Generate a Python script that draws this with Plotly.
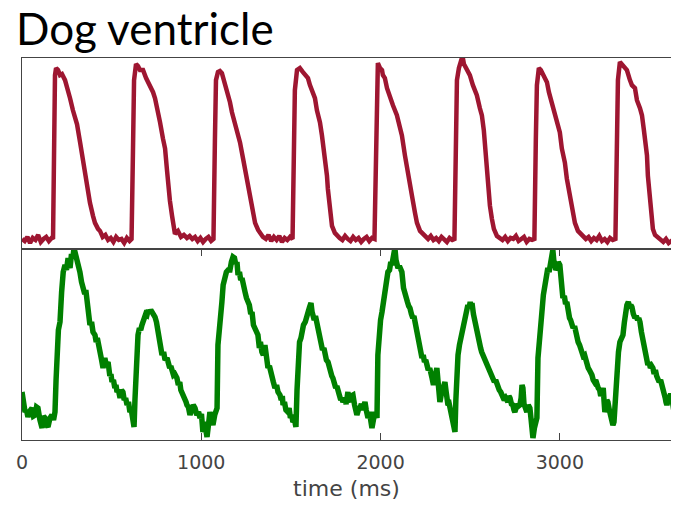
import plotly.graph_objects as go

# ---- data ----
red_time = [
    0, 15, 30, 45, 60, 75, 90, 105, 120, 135, 150, 165,
    173, 178, 184, 190, 201, 212, 223, 240, 257, 268, 284, 296, 307, 324, 340, 351, 368, 379, 396, 407, 424, 435,
    450, 465, 480, 495, 510, 525, 540, 555, 570, 585, 600,
    611, 619, 625, 636, 647, 658, 675, 692, 714, 731, 742, 759, 770, 786, 798, 809, 814, 825, 837, 848, 853, 870, 887, 903, 920,
    935, 950, 965, 980, 995, 1010, 1025, 1040, 1055,
    1068, 1076, 1082, 1093, 1104, 1115, 1127, 1138, 1149, 1160, 1171, 1188, 1205, 1216, 1233, 1244, 1261, 1272, 1289, 1300, 1317, 1328, 1344,
    1360, 1375, 1390, 1405, 1420, 1435, 1450, 1465, 1480, 1495,
    1509, 1517, 1522, 1534, 1550, 1567, 1584, 1595, 1606, 1617, 1634, 1645, 1662, 1673, 1690, 1701, 1706, 1718, 1729, 1745, 1757,
    1772, 1787, 1802, 1817, 1832, 1847, 1862, 1877, 1892, 1907, 1922, 1937, 1952,
    1966, 1974, 1980, 1985, 1997, 2008, 2013, 2024, 2036, 2052, 2069, 2091, 2108, 2119, 2136, 2147, 2164, 2175, 2192, 2203, 2220, 2231, 2248,
    2265, 2280, 2295, 2310, 2325, 2340, 2355, 2370, 2385, 2400,
    2412, 2420, 2426, 2437, 2448, 2457, 2465, 2476, 2487, 2498, 2515, 2526, 2537, 2554, 2565, 2576, 2582, 2593, 2598, 2610, 2621, 2632, 2649,
    2665, 2680, 2695, 2710, 2725, 2740, 2755, 2770, 2785, 2800, 2815, 2830, 2845,
    2858, 2866, 2872, 2883, 2894, 2905, 2916, 2928, 2939, 2950, 2961, 2978, 2989, 3000, 3011, 3028, 3039, 3056, 3067, 3084, 3101, 3112, 3129,
    3145, 3160, 3175, 3190, 3205, 3220, 3235, 3250, 3265, 3280, 3295,
    3310, 3319, 3324, 3335, 3346, 3357, 3374, 3391, 3402, 3419, 3430, 3447, 3458, 3469, 3480, 3486, 3491, 3503, 3514, 3519, 3531, 3547,
    3562, 3577, 3592, 3607, 3622, 3637, 3652, 3664,
]
red_value = [
    10, 8, 12, 6, 11, 9, 14, 7, 10, 12, 8, 11,
    10, 98, 173, 180, 178, 173, 174, 168, 158, 150, 138, 130, 124, 106, 88, 76, 58, 46, 33, 26, 20, 18,
    12, 14, 9, 11, 7, 12, 9, 10, 6, 11, 8,
    10, 98, 168, 184, 182, 178, 178, 170, 163, 156, 150, 138, 126, 110, 100, 78, 66, 48, 33, 20, 15, 18, 12, 14, 11,
    13, 10, 12, 8, 11, 7, 10, 12, 8,
    10, 108, 168, 176, 177, 175, 168, 160, 156, 146, 136, 126, 113, 106, 90, 80, 66, 53, 36, 26, 19, 16, 12,
    10, 14, 8, 12, 9, 13, 7, 11, 9, 12,
    10, 98, 158, 178, 180, 176, 172, 170, 163, 158, 150, 138, 126, 113, 93, 73, 60, 38, 23, 16, 13,
    11, 9, 13, 10, 8, 12, 9, 11, 7, 10, 12, 8, 11,
    10, 98, 168, 185, 180, 178, 173, 170, 160, 153, 143, 133, 120, 113, 93, 80, 66, 53, 36, 26, 18, 16, 12,
    10, 13, 9, 11, 8, 12, 10, 7, 11, 9,
    10, 98, 168, 180, 186, 192, 184, 180, 176, 173, 163, 158, 153, 140, 133, 118, 103, 78, 66, 43, 30, 20, 13,
    11, 9, 12, 8, 11, 10, 13, 8, 10, 12, 7, 10, 9,
    10, 108, 163, 180, 178, 174, 170, 166, 156, 148, 140, 130, 123, 116, 100, 86, 70, 53, 38, 26, 18, 16, 12,
    10, 12, 8, 11, 9, 13, 8, 10, 7, 11, 9,
    10, 108, 168, 186, 184, 182, 178, 168, 163, 160, 148, 140, 133, 118, 100, 93, 73, 53, 33, 20, 14, 11,
    9, 7, 10, 6, 8, 5, 7, 6,
]

green_time = [
    0, 8, 17, 25, 33, 44, 56, 64, 73, 81, 89, 100, 112, 120, 128, 137, 145, 156, 167, 176, 184,
    190, 194, 203, 212, 216, 221, 230, 240, 248, 257, 262, 268, 276, 284, 290, 296, 304, 312, 318, 323,
    332, 340, 350, 356, 362, 370, 379, 388, 396, 407, 414, 420, 428, 435, 444, 452, 462, 470, 480, 490,
    496, 502, 510, 518, 524, 530, 538, 547, 555, 563, 570, 578, 586, 594, 602, 610, 618, 625,
    630, 636, 641, 647, 655, 662, 669, 676, 683, 690, 697, 704, 711, 718, 725, 733, 742, 750, 759, 767,
    772, 781, 790, 798, 809, 816, 824, 830, 837, 845, 852, 864, 872, 880, 886, 892, 900, 909, 915, 920, 928, 937,
    945, 955, 965, 975, 985, 993, 1001, 1009, 1018, 1025, 1032, 1040, 1048, 1056, 1065, 1075, 1082, 1088,
    1093, 1100, 1108, 1115, 1122, 1132, 1140, 1150, 1160, 1168, 1177, 1185, 1192, 1199, 1205, 1213, 1220, 1227, 1235, 1244,
    1252, 1260, 1268, 1276, 1283, 1291, 1299, 1306, 1316, 1324, 1330, 1338, 1346, 1355, 1362, 1372, 1380, 1388, 1394, 1402,
    1411, 1420, 1428, 1439, 1446, 1452, 1456, 1464, 1472, 1483, 1490, 1497, 1505, 1511, 1520, 1528,
    1534, 1539, 1548, 1556, 1562, 1570, 1580, 1589, 1596, 1604, 1612, 1618, 1623, 1630, 1637, 1645, 1652, 1662, 1670, 1676,
    1684, 1690, 1698, 1707, 1714, 1722, 1728, 1734, 1742, 1750, 1756, 1762, 1770, 1778, 1784, 1790, 1800, 1808, 1818, 1824,
    1829, 1836, 1846, 1855, 1862, 1868, 1876, 1885, 1893, 1900, 1906, 1913, 1920, 1925, 1930, 1938, 1945, 1952, 1960, 1969,
    1975, 1980,
    1985, 1992, 2000, 2008, 2016, 2024, 2032, 2041, 2050, 2057, 2063, 2070, 2076, 2080, 2086, 2092, 2097, 2105, 2112, 2119,
    2128, 2136, 2144, 2150, 2157, 2164, 2172, 2180, 2186, 2192, 2200, 2208, 2215, 2222, 2231, 2238, 2245, 2252, 2259, 2266,
    2274, 2280, 2287, 2295, 2302, 2308, 2314, 2320, 2325, 2331, 2338, 2346, 2352, 2359, 2366, 2370, 2376, 2383, 2390, 2398,
    2405, 2410, 2415,
    2420, 2426, 2432, 2440, 2448, 2454, 2462, 2470, 2476, 2482, 2487, 2494, 2500, 2505, 2510, 2518, 2526, 2534, 2543, 2550,
    2558, 2564, 2571, 2580, 2588, 2594, 2599, 2606, 2614, 2620, 2627, 2635, 2642, 2648, 2655, 2662, 2670, 2676, 2683, 2690,
    2698, 2704, 2710, 2716, 2722, 2730, 2738, 2744, 2749, 2756, 2763, 2770, 2777, 2784, 2789, 2794, 2800, 2808, 2816, 2824,
    2833, 2840, 2845, 2850, 2858, 2866, 2872,
    2878, 2886, 2893, 2900, 2908, 2917, 2925, 2933, 2940, 2948, 2956, 2961, 2966, 2972, 2978, 2984, 2991, 3000, 3008, 3017,
    3025, 3032, 3039, 3046, 3054, 3060, 3067, 3074, 3082, 3088, 3095, 3102, 3110, 3116, 3123, 3130, 3138, 3144, 3151, 3158,
    3165, 3172, 3179, 3186, 3193, 3200, 3207, 3214, 3222, 3228, 3235, 3242, 3247, 3251, 3258, 3262, 3268, 3276, 3282, 3290,
    3296, 3302,
    3308, 3313, 3319, 3327, 3335, 3342, 3352, 3360, 3366, 3374, 3382, 3390, 3396, 3402, 3410, 3419, 3426, 3434, 3440, 3447,
    3455, 3462, 3468, 3474, 3480, 3486, 3491, 3498, 3505, 3512, 3519, 3526, 3533, 3540, 3547, 3554, 3562, 3568, 3575, 3582,
    3588, 3592, 3597, 3604, 3610, 3618, 3625, 3632, 3638, 3642, 3650, 3658, 3664,
]
green_value = [
    48, 36, 28, 30, 23, 29, 32, 24, 25, 33, 32, 20, 12, 24, 22, 15, 13, 22, 25, 20, 28,
    60, 88, 110, 118, 140, 148, 168, 175, 170, 182, 176, 172, 186, 182, 192, 188, 182, 178, 170, 168,
    158, 152, 146, 150, 142, 125, 115, 118, 108, 105, 98, 102, 92, 88, 80, 72, 82, 75, 78, 64,
    66, 58, 60, 52, 55, 48, 50, 42, 50, 48, 40, 42, 35, 38, 28, 30, 20, 13,
    40, 68, 90, 105, 112, 110, 115, 118, 122, 126, 125, 130, 127, 130, 128, 126, 123, 118, 108, 100,
    92, 85, 88, 80, 82, 76, 72, 74, 68, 65, 66, 62, 55, 58, 50, 48, 45, 42, 38, 35, 33, 25,
    30, 35, 32, 25, 28, 22, 26, 8, 18, 12, 3, 15, 28, 20, 15, 25, 30, 32,
    95, 115, 128, 138, 155, 165, 168, 170, 170, 178, 183, 182, 176, 178, 165, 168, 160, 162, 152, 148,
    142, 138, 135, 126, 128, 115, 112, 108, 105, 92, 98, 88, 85, 95, 80, 72, 74, 66, 65, 58,
    52, 55, 48, 45, 40, 44, 35, 38, 30, 28, 32, 22, 25, 18, 20, 13,
    50, 82, 98, 102, 108, 115, 118, 122, 128, 133, 137, 128, 122, 120, 124, 117, 108, 102, 96, 90,
    92, 85, 80, 78, 72, 68, 64, 62, 58, 52, 54, 48, 45, 40, 42, 38, 42, 36, 48, 40,
    38, 44, 45, 35, 30, 25, 30, 32, 36, 30, 34, 38, 30, 26, 22, 28, 18, 12, 20, 28,
    25, 22,
    85, 105, 120, 128, 140, 152, 160, 168, 170, 178, 175, 182, 186, 192, 180, 176, 172, 174, 170, 168,
    152, 145, 142, 138, 134, 132, 126, 122, 124, 118, 110, 105, 95, 88, 82, 85, 78, 80, 75, 70,
    72, 64, 62, 55, 62, 70, 72, 60, 48, 38, 45, 52, 55, 58, 48, 40, 35, 36, 30, 28,
    18, 12, 8,
    40, 70, 85, 95, 102, 105, 115, 118, 122, 130, 135, 132, 138, 134, 137, 126, 118, 110, 102, 96,
    92, 88, 85, 82, 78, 76, 75, 70, 66, 64, 62, 58, 60, 56, 55, 50, 48, 46, 45, 40,
    42, 38, 38, 44, 42, 36, 35, 30, 28, 32, 36, 34, 35, 42, 55, 52, 36, 30, 28, 35,
    32, 20, 10, 2, 12, 20, 22,
    82, 105, 120, 128, 145, 158, 165, 172, 168, 176, 178, 190, 180, 176, 170, 172, 178, 175, 155, 142,
    144, 136, 138, 128, 122, 120, 115, 112, 114, 108, 105, 98, 95, 92, 88, 84, 85, 80, 78, 72,
    70, 68, 65, 60, 58, 60, 55, 52, 50, 44, 48, 52, 38, 28, 32, 40, 38, 30, 26, 22,
    15, 18,
    40, 55, 68, 88, 98, 100, 105, 118, 130, 135, 138, 132, 135, 133, 126, 122, 124, 120, 122, 118,
    108, 102, 98, 95, 88, 80, 75, 78, 72, 74, 72, 66, 70, 64, 62, 58, 60, 56, 55, 48,
    42, 38, 35, 40, 44, 46, 42, 34, 26, 22, 24, 30, 28,
]

x_ticks = [0, 1000, 2000, 3000]
title_text = "Dog ventricle"
x_label = "time (ms)"

RED = "#9e1631"
GREEN = "#008000"
AXIS = "#444444"

fig = go.Figure()
fig.add_trace(go.Scatter(x=red_time, y=red_value, mode="lines",
                         line=dict(color=RED, width=4.5), xaxis="x2", yaxis="y2",
                         showlegend=False, hoverinfo="skip"))
fig.add_trace(go.Scatter(x=green_time, y=green_value, mode="lines",
                         line=dict(color=GREEN, width=5.5), xaxis="x", yaxis="y",
                         showlegend=False, hoverinfo="skip"))

xr = [0, 3620]
fig.update_layout(
    width=663, height=493,
    margin=dict(l=14, r=0, t=50, b=61),
    paper_bgcolor="white", plot_bgcolor="white",
    xaxis=dict(domain=[0, 1], range=xr, anchor="y",
               showgrid=False, zeroline=False,
               showline=True, linecolor=AXIS, linewidth=1, mirror="ticks",
               ticks="inside", ticklen=7, tickcolor=AXIS,
               tickvals=x_ticks, ticktext=[str(v) for v in x_ticks],
               tickfont=dict(family="DejaVu Sans", size=19, color=AXIS),
               ticklabelstandoff=5,
               title=dict(text=x_label, font=dict(family="DejaVu Sans", size=22, color=AXIS),
                          standoff=11)),
    yaxis=dict(domain=[0, 0.5], range=[0, 191], anchor="x",
               showgrid=False, zeroline=False, showticklabels=False, ticks="",
               showline=True, linecolor=AXIS, linewidth=1, mirror=False),
    xaxis2=dict(domain=[0, 1], range=xr, anchor="y2", matches="x",
                showgrid=False, zeroline=False, showticklabels=False, ticks="",
                showline=True, linecolor=AXIS, linewidth=1, mirror=True),
    yaxis2=dict(domain=[0.5, 1], range=[0, 190], anchor="x2",
                showgrid=False, zeroline=False, showticklabels=False, ticks="",
                showline=True, linecolor=AXIS, linewidth=1, mirror=False),
    annotations=[dict(text=title_text, xref="paper", yref="paper",
                      x=-0.0123, y=1.078, xanchor="left", yanchor="middle",
                      showarrow=False,
                      font=dict(family="Lato", size=44, color="black"))],
)

fig.write_html("out.html")
